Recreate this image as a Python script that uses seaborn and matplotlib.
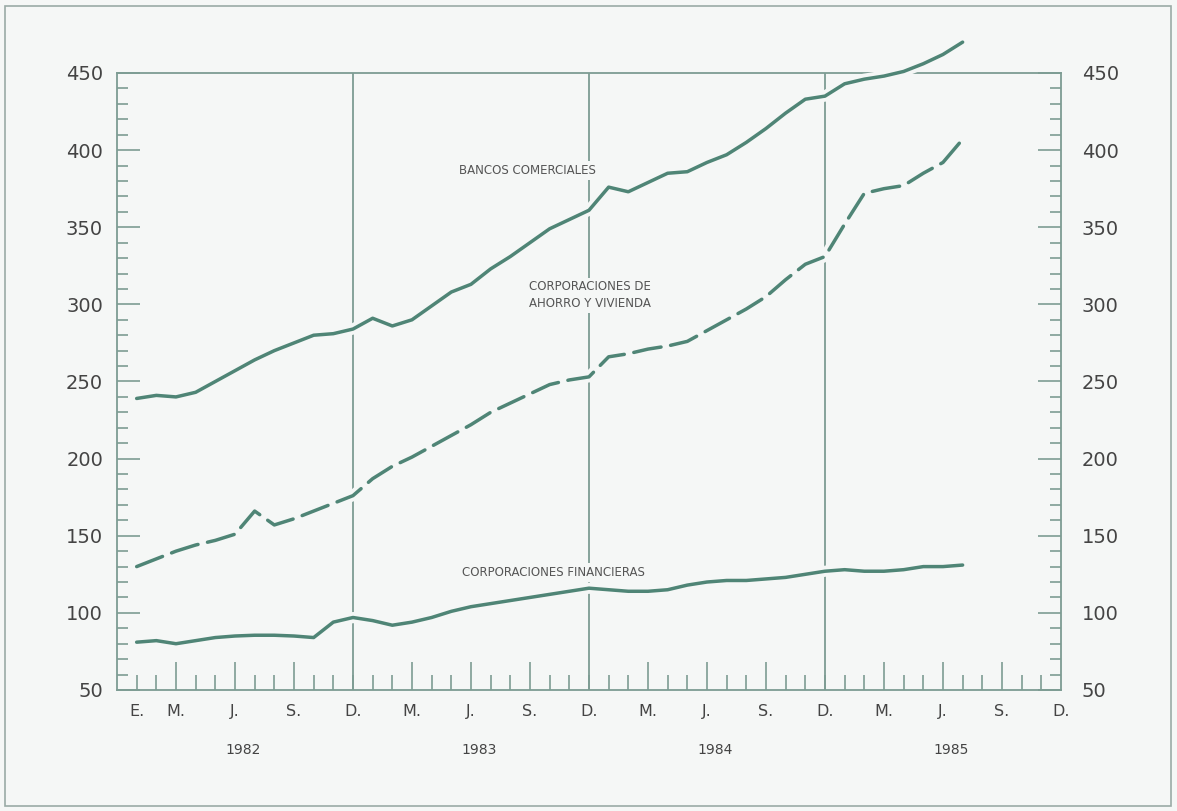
import numpy as np
import pandas as pd
import matplotlib
matplotlib.use("Agg")
import matplotlib.pyplot as plt
import matplotlib.patheffects as pe
from matplotlib.patches import Rectangle
import seaborn as sns

# --- datos (meses desde enero 1982) ---
meses = list(range(43))  # E. 1982 ... J. 1985

bancos = [239, 241, 240, 243, 250, 257, 264, 270, 275, 280, 281, 284,
          291, 286, 290, 299, 308, 313, 323, 331, 340, 349, 355, 361,
          376, 373, 379, 385, 386, 392, 397, 405, 414, 424, 433, 435,
          443, 446, 448, 451, 456, 462, 470]
ahorro = [130, 135, 140, 144, 147, 151, 166, 157, 161, 166, 171, 176,
          187, 195, 201, 208, 215, 222, 230, 236, 242, 248, 251, 253,
          266, 268, 271, 273, 276, 283, 290, 297, 305, 316, 326, 331,
          352, 372, 375, 377, 385, 392, 407]
financieras = [81, 82, 80, 82, 84, 85, 85.5, 85.5, 85, 84, 94, 97,
               95, 92, 94, 97, 101, 104, 106, 108, 110, 112, 114, 116,
               115, 114, 114, 115, 118, 120, 121, 121, 122, 123, 125, 127,
               128, 127, 127, 128, 130, 130, 131]

etiq_pos = [0] + [m for m in range(48) if m % 3 == 2]
etiq_txt = ["E."] + ["M.", "J.", "S.", "D."] * 4
anios = ["1982", "1983", "1984", "1985"]
y_ticks = list(range(50, 451, 50))

df = pd.DataFrame({"mes": meses, "bancos": bancos,
                   "ahorro": ahorro, "financieras": financieras})

fondo = "#f5f7f6"
verde = "#4f8576"
gris_eje = "#7d9c93"
texto = "#444444"

sns.set_style("white")
plt.rcParams["font.family"] = ["DejaVu Sans"]

fig = plt.figure(figsize=(11.77, 8.11), dpi=100, facecolor=fondo)
ax = fig.add_axes([0.0994, 0.1492, 0.802, 0.7608])
ax.set_facecolor(fondo)

halo = [pe.Stroke(linewidth=8, foreground=fondo), pe.Normal()]

# lineas de diciembre
for d in [11, 23, 35]:
    ax.axvline(d, color=gris_eje, linewidth=1.3, zorder=1)

sns.lineplot(data=df, x="mes", y="bancos", ax=ax, color=verde, linewidth=2.5)
sns.lineplot(data=df, x="mes", y="ahorro", ax=ax, color=verde, linewidth=2.5)
sns.lineplot(data=df, x="mes", y="financieras", ax=ax, color=verde, linewidth=2.5)
for i, ln in enumerate(ax.get_lines()[3:]):
    ln.set_zorder(4)
    ln.set_clip_on(False)
    ln.set_path_effects(halo)
    ln.set_solid_capstyle("round")
    if i == 1:
        ln.set_linestyle((0, (8, 2.8)))
        ln.set_dash_capstyle("round")

ax.set_xlim(-1, 47)
ax.set_ylim(50, 450)
ax.set_xlabel("")
ax.set_ylabel("")

for s in ax.spines.values():
    s.set_color(gris_eje)
    s.set_linewidth(1.3)
    s.set_visible(True)

# eje y izquierdo
ax.set_yticks(y_ticks)
ax.set_yticks(range(50, 451, 10), minor=True)
ax.tick_params(axis="y", which="both", direction="in", left=True, right=False,
               labelleft=True, labelright=False, color=gris_eje, width=1.2,
               labelsize=14, labelcolor=texto)
ax.tick_params(axis="y", which="major", length=16.5, pad=10)
ax.tick_params(axis="y", which="minor", length=8)

# eje y derecho
ax2 = ax.twinx()
ax2.set_ylim(50, 450)
ax2.set_yticks(y_ticks)
ax2.set_yticks(range(50, 451, 10), minor=True)
ax2.tick_params(axis="y", which="both", direction="in", right=True, left=False,
                color=gris_eje, width=1.2, labelsize=14, labelcolor=texto)
ax2.tick_params(axis="y", which="major", length=16.5, pad=15)
ax2.tick_params(axis="y", which="minor", length=8)
for s in ax2.spines.values():
    s.set_visible(False)

# eje x: meses cortos, trimestres largos
ax.set_xticks([m for m in range(47) if m % 3 == 2 and m % 12 != 11])
ax.set_xticks(range(47), minor=True)
ax.tick_params(axis="x", which="both", direction="in", bottom=True, top=False,
               labelbottom=False, color=gris_eje, width=1.2)
ax.tick_params(axis="x", which="major", length=20)
ax.tick_params(axis="x", which="minor", length=10.5)

sec = ax.secondary_xaxis("bottom")
sec.set_xticks(etiq_pos, etiq_txt)
sec.tick_params(length=0, pad=10, labelsize=11.5, labelcolor=texto)
sec.spines["bottom"].set_visible(False)

for k, a in enumerate(anios):
    ax.text(5.4 + 12 * k, -0.098, a, transform=ax.get_xaxis_transform(),
            ha="center", va="center", fontsize=10, color=texto)

caja = dict(facecolor=fondo, edgecolor="none", pad=2)
ax.text(19.85, 387, "BANCOS COMERCIALES", ha="center", va="center",
        fontsize=8.5, color="#555555", bbox=caja, zorder=5)
ax.text(23.05, 306, "CORPORACIONES DE\nAHORRO Y VIVIENDA", ha="center",
        va="center", fontsize=8.5, color="#555555", linespacing=1.35,
        bbox=caja, zorder=5)
ax.text(21.2, 126, "CORPORACIONES FINANCIERAS", ha="center", va="center",
        fontsize=8.5, color="#555555", bbox=caja, zorder=5)

fig.patches.append(Rectangle((5 / 1177, 1 - 806 / 811), 1166 / 1177, 800 / 811,
                             transform=fig.transFigure, fill=False,
                             edgecolor="#9aaba6", linewidth=1.2))

fig.savefig("out.png", dpi=100, facecolor=fondo)
